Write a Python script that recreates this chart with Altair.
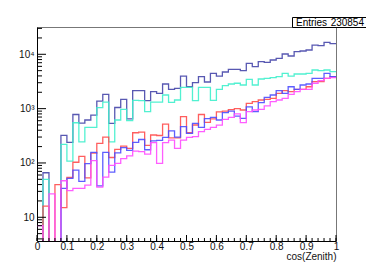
import altair as alt
import pandas as pd

# ---- data (counts per bin of width 0.02 on cos(Zenith) in [0,1]) ----
bin_width = 0.02
series_names = ["total", "cyan", "red", "blue", "magenta"]
series_colors = ["#4646aa", "#3ff0cc", "#ff4d4d", "#4d4dff", "#ff4dff"]

total = [0, 66, 0, 0, 322, 240, 780, 540, 617, 760,
         1380, 1830, 536, 1050, 1480, 650, 2140, 2140, 1400, 2050,
         1910, 2840, 2260, 2360, 3980, 2530, 3010, 3870, 3090, 4470,
         3980, 4720, 5290, 5290, 5000, 6820, 5910, 7310, 7110, 7850,
         8430, 10130, 9310, 11200, 11500, 12000, 14800, 14400, 16600, 15700]
cyan = [0, 50, 0, 0, 220, 108, 550, 245, 450, 450,
        1040, 1320, 245, 617, 970, 600, 1420, 1400, 877, 1320,
        1320, 1780, 1300, 1440, 2470, 2470, 1400, 2470, 2470, 1420,
        2260, 2640, 2840, 2930, 2720, 3460, 2720, 3510, 3610, 3710,
        3870, 4460, 3980, 4340, 4340, 4460, 5140, 5000, 5140, 4790]
red = [0, 16, 0, 40, 15, 54, 103, 132, 53, 152,
       229, 300, 126, 178, 204, 186, 360, 370, 210, 327,
       320, 520, 290, 290, 710, 360, 500, 780, 560, 650,
       870, 900, 960, 1000, 943, 1250, 1340, 1440, 1480, 1550,
       1910, 2140, 2050, 2260, 2260, 2530, 3130, 3130, 3610, 3870]
blue = [0, 0, 0, 0, 34, 52, 74, 46, 97, 156,
        38, 156, 68, 153, 192, 170, 240, 270, 175, 256,
        260, 295, 390, 300, 465, 350, 536, 452, 653, 690,
        617, 841, 900, 730, 662, 1080, 877, 1290, 1610, 1780,
        2140, 1910, 2530, 2260, 2720, 2840, 3610, 3610, 4460, 3870]
magenta = [7, 0, 27, 0, 47, 31, 34, 34, 39, 110,
           36, 55, 90, 98, 120, 135, 165, 161, 146, 236,
           98, 236, 263, 186, 263, 295, 304, 376, 416, 452,
           499, 634, 692, 800, 551, 877, 943, 970, 1120, 1340,
           1440, 1550, 1830, 2050, 2260, 2260, 2930, 3270, 3610, 3720]

entries_text = "230854"
x_title = "cos(Zenith)"
x_major = [0, 0.1, 0.2, 0.3, 0.4, 0.5, 0.6, 0.7, 0.8, 0.9, 1.0]
y_major = [10, 100, 1000, 10000]

# ---- build tables ----
rows = []
for name, vals in zip(series_names, [total, cyan, red, blue, magenta]):
    for i, v in enumerate(vals):
        rows.append({"series": name, "x": round(i * bin_width, 2), "count": v})
    rows.append({"series": name, "x": 1.0, "count": vals[-1]})
df = pd.DataFrame(rows)
df["plot"] = df["count"].clip(lower=1)

x_minor = [round(i * bin_width, 2) for i in range(51)]
y_minor = [m * 10 ** k for k in range(0, 5) for m in range(2, 10)
           if 3.66 < m * 10 ** k < 31800]

W, H = 299, 214
FONT = "Liberation Sans"
xscale = alt.Scale(domain=[0, 1], nice=False, zero=False)
yscale = alt.Scale(type="log", domain=[3.66, 31800], nice=False)

x_axis = alt.Axis(values=x_major, ticks=False, grid=False,
                  domainColor="#000", domainWidth=1,
                  labelExpr="datum.value == 0 ? '0' : datum.value == 1 ? '1' : format(datum.value, '.1f')",
                  labelFont=FONT, labelFontSize=10, labelColor="#111",
                  labelPadding=0, labelFlush=False,
                  title=x_title, titleFont=FONT, titleFontSize=10,
                  titleFontWeight="normal", titleColor="#111",
                  titleAnchor="end", titlePadding=0)
y_axis = alt.Axis(values=y_major, ticks=False, grid=False,
                  domainColor="#000", domainWidth=1,
                  labelExpr="datum.value == 10 ? '10' : datum.value == 100 ? '10²' : datum.value == 1000 ? '10³' : '10⁴'",
                  labelFont=FONT, labelFontSize=10, labelColor="#111",
                  labelPadding=3, title=None)

lines = alt.Chart(df).mark_line(interpolate="step-after", clip=True,
                                strokeWidth=1.3, opacity=0.9).encode(
    x=alt.X("x:Q", scale=xscale, axis=x_axis, title=x_title),
    y=alt.Y("plot:Q", scale=yscale, axis=y_axis, title=None),
    color=alt.Color("series:N", scale=alt.Scale(domain=series_names, range=series_colors),
                    legend=None),
)

xmaj = pd.DataFrame({"x": x_major})
xmin = pd.DataFrame({"x": x_minor})
ymaj = pd.DataFrame({"plot": y_major})
ymin = pd.DataFrame({"plot": y_minor})

tick_style = dict(color="#000", strokeWidth=1)
xt_major = alt.Chart(xmaj).mark_rule(**tick_style).encode(
    x=alt.X("x:Q", scale=xscale, axis=x_axis, title=x_title), y=alt.value(H), y2=alt.value(H - 6))
xt_minor = alt.Chart(xmin).mark_rule(**tick_style).encode(
    x=alt.X("x:Q", scale=xscale, axis=x_axis, title=x_title), y=alt.value(H), y2=alt.value(H - 3))
yt_major = alt.Chart(ymaj).mark_rule(**tick_style).encode(
    y=alt.Y("plot:Q", scale=yscale, axis=y_axis, title=None), x=alt.value(0), x2=alt.value(9))
yt_minor = alt.Chart(ymin).mark_rule(**tick_style).encode(
    y=alt.Y("plot:Q", scale=yscale, axis=y_axis, title=None), x=alt.value(0), x2=alt.value(5))

box_df = pd.DataFrame({"label": ["Entries"], "value": [entries_text]})
box = alt.Chart(box_df).mark_rect(fill="white", stroke="#000", strokeWidth=1).encode(
    x=alt.value(255.5), x2=alt.value(329.5), y=alt.value(-9.5), y2=alt.value(0.5))
box_l = alt.Chart(box_df).mark_text(align="left", baseline="middle", font=FONT,
                                    fontSize=10, color="#000").encode(
    x=alt.value(259), y=alt.value(-4), text="label:N")
box_r = alt.Chart(box_df).mark_text(align="right", baseline="middle", font=FONT,
                                    fontSize=10, color="#000").encode(
    x=alt.value(327), y=alt.value(-4), text="value:N")

chart = alt.layer(lines, xt_minor, xt_major, yt_minor, yt_major, box, box_l, box_r).properties(
    width=W, height=H,
    autosize=alt.AutoSizeParams(type="none"),
    padding={"left": 29, "top": 19, "right": 30, "bottom": 25},
    background="white",
).configure_view(stroke="#777", strokeWidth=1)

chart.save("out.html", embed_options={"renderer": "svg", "actions": False})
